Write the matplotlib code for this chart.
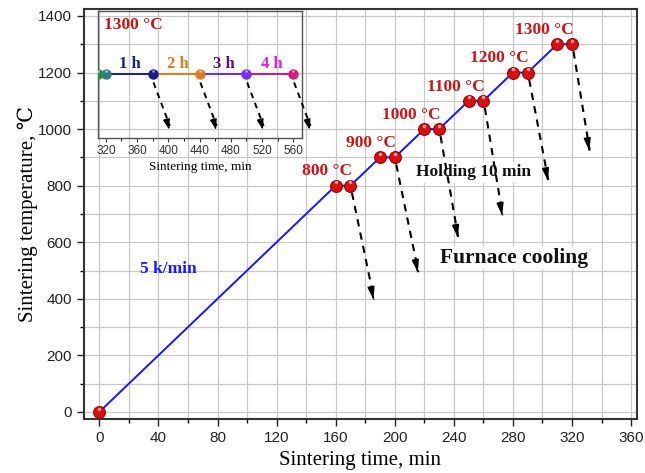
import matplotlib
matplotlib.use("Agg")
import matplotlib.pyplot as plt
from matplotlib.ticker import MultipleLocator

# ---------------- data ----------------
ramp_times = [0, 160, 170, 190, 200, 220, 230, 250, 260, 280, 290, 310, 320]
ramp_temps = [0, 800, 800, 900, 900, 1000, 1000, 1100, 1100, 1200, 1200, 1300, 1300]
hold_temps = [800, 900, 1000, 1100, 1200, 1300]
hold_end_times = [170, 200, 230, 260, 290, 320]
cool_tip_times = [186, 216, 243, 273, 304, 332]
cool_tip_temps = [388, 484, 607, 685, 808, 914]
hold_labels = ["800 °C", "900 °C", "1000 °C", "1100 °C", "1200 °C", "1300 °C"]

x_ticks = [0, 40, 80, 120, 160, 200, 240, 280, 320, 360]
y_ticks = [0, 200, 400, 600, 800, 1000, 1200, 1400]

inset_times = [310, 320, 380, 440, 500, 560]
inset_temp = 1300
inset_point_colors = ["#2e8b2e", "#2f7f80", "#1c1c8a", "#e07b22", "#7a2df0", "#d81b7a"]
inset_line_colors = ["#2e8b2e", "#1c1c8a", "#e07b22", "#5a2dff", "#d4147a"]
inset_labels = ["1 h", "2 h", "3 h", "4 h"]
inset_label_colors = ["#1c1c8a", "#e07b22", "#5b1180", "#e020e0"]
inset_label_times = [351, 412, 471, 532]
inset_tip_times = [402, 462, 522, 582]
inset_tip_temp = 1118
inset_ticks = [320, 360, 400, 440, 480, 520, 560]

serif = ["Liberation Serif", "DejaVu Serif"]
sans = ["Liberation Sans", "DejaVu Sans"]
plt.rcParams["font.family"] = sans

fig = plt.figure(figsize=(6.45, 4.73), dpi=100)
ax = fig.add_axes([0.130, 0.1142, 0.8576, 0.867])

ax.set_xlim(-10.5, 364)
ax.set_ylim(-25, 1425)
ax.xaxis.set_major_locator(MultipleLocator(40))
ax.xaxis.set_minor_locator(MultipleLocator(20))
ax.yaxis.set_major_locator(MultipleLocator(200))
ax.yaxis.set_minor_locator(MultipleLocator(100))
ax.set_xticks(x_ticks)
ax.set_yticks(y_ticks)
ax.grid(True, which="both", color="#c8c8c8", lw=0.9, zorder=0)
ax.set_axisbelow(True)
ax.tick_params(which="major", direction="out", length=5, width=1, labelsize=11, colors="#222222")
ax.tick_params(which="minor", direction="out", length=3, width=1)
for s in ax.spines.values():
    s.set_linewidth(1.5)
    s.set_color("#333333")

ax.set_xlabel("Sintering time, min", family=serif, fontsize=15, labelpad=4.5)
ax.set_ylabel("Sintering temperature, \u2103", family=serif, fontsize=15, labelpad=0)

# ramp line and points
ax.plot(ramp_times, ramp_temps, color="#1515ff", lw=1.4, zorder=3)
ax.plot(ramp_times, ramp_temps, "o", ms=8.5, mfc="#d80f0f", mec="#9a0000", mew=0.8, zorder=5, clip_on=False)
ax.plot(ramp_times, [t + 12 for t in ramp_temps], "o", ms=2.5, mfc="#ff9a9a", mec="none",
        zorder=6, clip_on=False)

# cooling arrows
for x0, y0, x1, y1 in zip(hold_end_times, hold_temps, cool_tip_times, cool_tip_temps):
    ax.plot([x0 + 1, x1], [y0 - 25, y1 + 10], ls=(0, (3.5, 3)), color="black", lw=1.5, zorder=4)
    ax.annotate("", xy=(x1, y1), xytext=(x1 - (x1 - x0) * 0.06, y1 + (y0 - y1) * 0.06),
                arrowprops=dict(arrowstyle="-|>,head_length=0.7,head_width=0.2", color="black", lw=1.2),
                zorder=4)

for lab, xe, t in zip(hold_labels, hold_end_times, hold_temps):
    ax.text(xe + 1, t + 22, lab, family=serif, fontweight="bold", fontsize=12.5,
            color="#cc1414", ha="right", va="bottom", zorder=7)

ax.text(47, 505, "5 k/min", family=serif, fontweight="bold", fontsize=12.5, color="#1a1aff",
        ha="center", va="center", zorder=7)
ax.text(253, 847, "Holding 10 min", family=serif, fontweight="bold", fontsize=12.5, color="#111111",
        ha="center", va="center", zorder=2,
        bbox=dict(facecolor="white", edgecolor="none", pad=2))
ax.text(281, 545, "Furnace cooling", family=serif, fontweight="bold", fontsize=15.5, color="#111111",
        ha="center", va="center", zorder=2,
        bbox=dict(facecolor="white", edgecolor="none", pad=1))

# ---------------- inset ----------------
ins = fig.add_axes([0.152, 0.708, 0.316, 0.269])
ins.patch.set_alpha(0)
ins.set_xlim(310, 571)
ins.set_ylim(1100, 1500)
ins.set_xticks(inset_ticks)
ins.xaxis.set_minor_locator(MultipleLocator(20))
ins.set_yticks([])
ins.tick_params(which="major", direction="out", length=3, labelsize=8.5, pad=2, colors="#333333")
ins.tick_params(which="minor", direction="out", length=2)
for s in ins.spines.values():
    s.set_linewidth(1.0)
    s.set_color("#555555")
ins.set_xlabel("Sintering time, min", family=serif, fontsize=9.5, labelpad=3)

for i, c in enumerate(inset_line_colors):
    ins.plot(inset_times[i:i + 2], [inset_temp, inset_temp], color=c, lw=1.4, zorder=3)
for x, c in zip(inset_times, inset_point_colors):
    ins.plot([x], [inset_temp], "o", ms=6.5, mfc=c, mec=c, zorder=5)
    ins.plot([x], [inset_temp + 12], "o", ms=2, mfc="white", mec="none", alpha=0.5, zorder=6)

for x0, x1 in zip(inset_times[2:], inset_tip_times):
    ins.plot([x0 + 1, x1], [inset_temp - 25, inset_tip_temp + 20], ls=(0, (3, 2.6)), color="black",
             lw=1.4, zorder=4, clip_on=False)
    ins.annotate("", xy=(x1, inset_tip_temp), xytext=(x1 - (x1 - x0) * 0.12, inset_tip_temp + 25),
                 arrowprops=dict(arrowstyle="-|>,head_length=0.6,head_width=0.2", color="black", lw=1.0),
                 annotation_clip=False, zorder=4)

for lab, x, c in zip(inset_labels, inset_label_times, inset_label_colors):
    ins.text(x, inset_temp + 8, lab, family=serif, fontweight="bold", fontsize=12, color=c,
             ha="center", va="bottom", zorder=7)
ins.text(0.03, 0.95, "1300 °C", transform=ins.transAxes, family=serif, fontweight="bold",
         fontsize=12.5, color="#cc1414", ha="left", va="top")

fig.savefig("out.png", dpi=100)
